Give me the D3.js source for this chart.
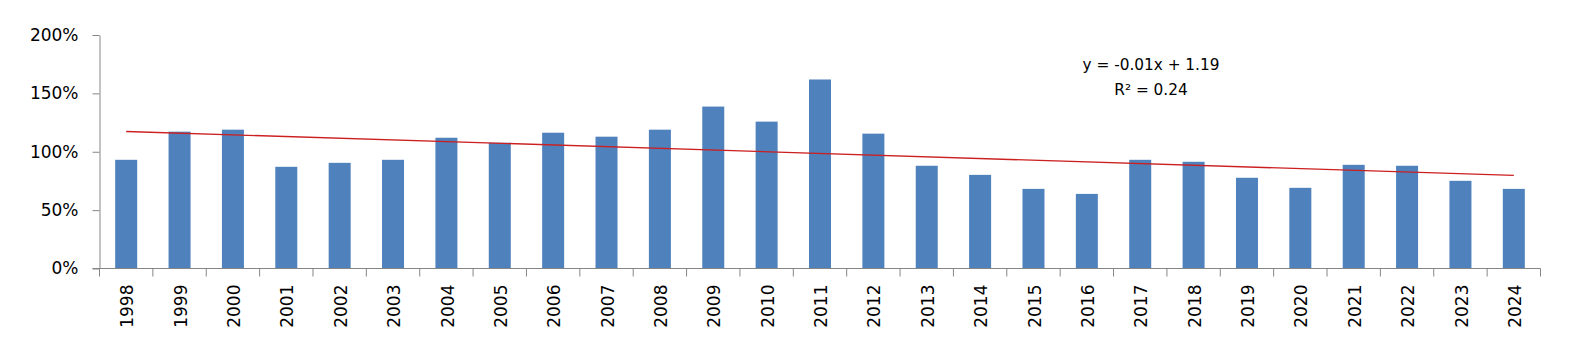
<!DOCTYPE html>
<html>
<head>
<meta charset="utf-8">
<script src="https://cdn.jsdelivr.net/npm/d3@7"></script>
<style>
  html, body { margin: 0; padding: 0; background: #fff; }
  svg { display: block; }
  text { font-family: "DejaVu Sans", sans-serif; fill: #000; }
</style>
</head>
<body>
<svg id="chart" width="1582" height="356"></svg>
<script>
const years = ["1998","1999","2000","2001","2002","2003","2004","2005","2006","2007","2008","2009","2010","2011","2012","2013","2014","2015","2016","2017","2018","2019","2020","2021","2022","2023","2024"];
const ratios = [93.1,117.2,118.9,87.1,90.5,93.1,112.0,107.7,116.3,112.9,118.9,138.7,125.8,161.9,115.5,88.0,80.2,68.2,63.9,93.1,91.4,77.7,69.1,88.8,88.0,75.1,68.2];
const yTicks = [0, 50, 100, 150, 200];
const trendLabel = ["y = -0.01x + 1.19", "R\u00B2 = 0.24"];

const svg = d3.select("#chart");
const plotLeft = 99.5, plotRight = 1540.5, plotTop = 35, plotBottom = 268.5;

const x = d3.scaleBand().domain(years).range([plotLeft, plotRight]).paddingInner(0).paddingOuter(0);
const y = d3.scaleLinear().domain([0, 200]).range([plotBottom, plotTop]);
const barW = 22;

// bars
svg.append("g").selectAll("rect").data(ratios).join("rect")
  .attr("x", (d, i) => x(years[i]) + x.bandwidth() / 2 - barW / 2)
  .attr("y", d => y(d))
  .attr("width", barW)
  .attr("height", d => y(0) - y(d))
  .attr("fill", "#4f81bd");

// y axis
const yAxis = d3.axisLeft(y).tickValues(yTicks).tickFormat(d => d + "%").tickSizeInner(7).tickSizeOuter(0).tickPadding(14);
const gy = svg.append("g").attr("transform", `translate(${plotLeft},0)`).call(yAxis);
gy.select(".domain").attr("stroke", "#868686");
gy.selectAll(".tick line").attr("stroke", "#868686");
gy.selectAll(".tick text").style("font-size", "17px").style("font-family", "DejaVu Sans");

// x axis
const xAxis = d3.axisBottom(x).tickSize(0).tickPadding(0);
const gx = svg.append("g").attr("transform", `translate(0,${plotBottom})`).call(xAxis);
gx.select(".domain").remove();
gx.append("line").attr("x1", plotLeft - 7).attr("x2", plotRight).attr("y1", 0).attr("y2", 0).attr("stroke", "#868686");
const bounds = years.map(d => x(d)).concat([plotRight]);
gx.selectAll(".bt").data(bounds).join("line").attr("class", "bt")
  .attr("x1", d => d).attr("x2", d => d).attr("y1", 0).attr("y2", 8).attr("stroke", "#868686");
gx.selectAll(".tick text")
  .style("font-size", "17px").style("font-family", "DejaVu Sans")
  .attr("text-anchor", "end")
  .attr("transform", "rotate(-90)")
  .attr("x", -16)
  .attr("y", 0)
  .attr("dy", "0.36em")
  .attr("dx", 0);
gx.selectAll(".tick").attr("transform", d => `translate(${x(d) + x.bandwidth() / 2 + 1},0)`);

// linear trend (least squares, x = 1..n)
const n = ratios.length;
const xs = d3.range(1, n + 1);
const vs = ratios.map(v => v / 100);
const mx = d3.mean(xs), mv = d3.mean(vs);
const slope = d3.sum(xs.map((xi, i) => (xi - mx) * (vs[i] - mv))) / d3.sum(xs.map(xi => (xi - mx) ** 2));
const intercept = mv - slope * mx;
const trend = [1, n].map(t => ({ cat: years[t - 1], v: (intercept + slope * t) * 100 }));
svg.append("path")
  .datum(trend)
  .attr("d", d3.line().x(d => x(d.cat) + x.bandwidth() / 2).y(d => y(d.v)))
  .attr("stroke", "#cc1f1f").attr("stroke-width", 1.4).attr("fill", "none");

// equation label
svg.append("g").selectAll("text").data(trendLabel).join("text")
  .attr("x", 1151).attr("y", (d, i) => 69.5 + i * 25.7)
  .attr("text-anchor", "middle")
  .style("font-size", "15.3px")
  .text(d => d);
</script>
</body>
</html>
